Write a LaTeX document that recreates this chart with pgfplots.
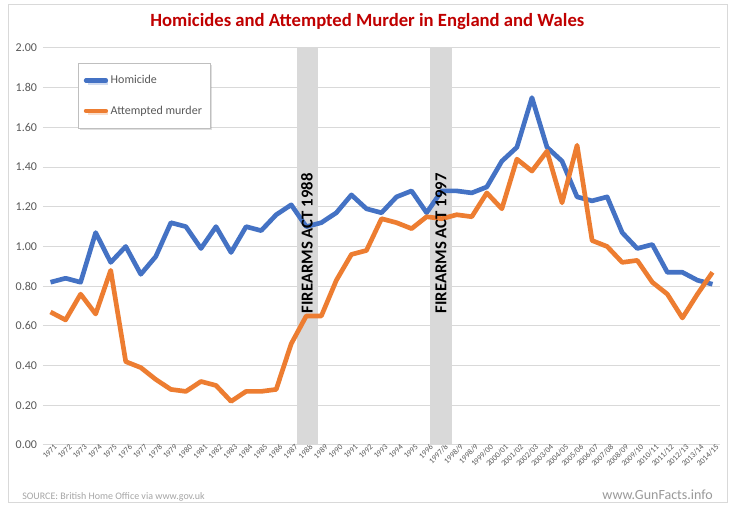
\documentclass[border=0pt]{standalone}
\usepackage{fontspec}
\setmainfont{Carlito}
\usepackage{pgfplots}
\pgfplotsset{compat=1.18}
\usepackage{pgfplotstable}
\usetikzlibrary{shadows}

\definecolor{hblue}{HTML}{4472C4}
\definecolor{horange}{HTML}{ED7D31}
\definecolor{gridc}{HTML}{D9D9D9}
\definecolor{bandc}{HTML}{D9D9D9}
\definecolor{titlered}{HTML}{C00000}
\definecolor{ticktext}{HTML}{595959}

\pgfplotstableread{
idx hom att
0 0.82 0.67
1 0.84 0.63
2 0.82 0.76
3 1.07 0.66
4 0.92 0.88
5 1.00 0.42
6 0.86 0.39
7 0.95 0.33
8 1.12 0.28
9 1.10 0.27
10 0.99 0.32
11 1.10 0.30
12 0.97 0.22
13 1.10 0.27
14 1.08 0.27
15 1.16 0.28
16 1.21 0.51
17 1.10 0.65
18 1.12 0.65
19 1.17 0.83
20 1.26 0.96
21 1.19 0.98
22 1.17 1.14
23 1.25 1.12
24 1.28 1.09
25 1.17 1.15
26 1.28 1.14
27 1.28 1.16
28 1.27 1.15
29 1.30 1.27
30 1.43 1.19
31 1.50 1.44
32 1.75 1.38
33 1.50 1.48
34 1.43 1.22
35 1.25 1.51
36 1.23 1.03
37 1.25 1.00
38 1.07 0.92
39 0.99 0.93
40 1.01 0.82
41 0.87 0.76
42 0.87 0.64
43 0.83 0.76
44 0.81 0.87
}\datatable

\begin{document}
\begin{tikzpicture}
\fill[white] (0pt,0pt) rectangle (548.25pt,379.5pt);
\draw[gridc,line width=0.75pt] (6pt,2.25pt) rectangle (545.25pt,375.75pt);
\begin{axis}[
  at={(32.25pt,45.75pt)}, anchor=south west,
  scale only axis, width=507.75pt, height=297.75pt,
  xmin=-0.5, xmax=44.5, ymin=0, ymax=2,
  ytick={0,0.2,0.4,0.6,0.8,1,1.2,1.4,1.6,1.8,2},
  /pgf/number format/assume math mode=true,
  /pgf/number format/fixed,
  /pgf/number format/fixed zerofill,
  /pgf/number format/precision=2,
  yticklabel style={font=\fontsize{9}{10}\selectfont, text=ticktext, xshift=-1pt},
  ymajorgrids, grid style={gridc, line width=0.75pt},
  axis line style={draw=none},
  major tick length=0pt, tick style={draw=none},
  xtick={0,...,44},
  xticklabels={1971,1972,1973,1974,1975,1976,1977,1978,1979,1980,1981,1982,1983,1984,1985,1986,1987,1988,1989,1990,1991,1992,1993,1994,1995,1996,1997/8,1998/9,1998/9,1999/00,2000/01,2001/02,2002/03,2003/04,2004/05,2005/06,2006/07,2007/08,2008/09,2009/10,2010/11,2011/12,2012/13,2013/14,2014/15},
  xticklabel style={rotate=45, anchor=east, font=\fontsize{6}{7}\selectfont, text=ticktext, inner sep=0.5pt, xshift=3pt, yshift=-3pt},
  legend style={at={(0.052,0.962)}, anchor=north west, draw=gray!50, fill=white,
    font=\fontsize{9}{11}\selectfont, text=ticktext, row sep=11pt,
    inner xsep=4pt, inner ysep=7pt,
    drop shadow={opacity=0.25, shadow xshift=1.5pt, shadow yshift=-1.5pt}},
  legend cell align=left,
  legend image code/.code={\draw[#1, line width=3.2pt, line cap=round] (0pt,0pt) -- (15pt,0pt);},
]
\fill[bandc] (axis cs:16.4,0) rectangle (axis cs:17.8,2);
\fill[bandc] (axis cs:25.25,0) rectangle (axis cs:26.7,2);
\addplot[hblue, line width=3.5pt, line join=round, no markers] table[x=idx, y=hom] {\datatable};
\addlegendentry{Homicide}
\addplot[horange, line width=3.5pt, line join=round, no markers] table[x=idx, y=att] {\datatable};
\addlegendentry{Attempted murder}
\node[rotate=90, anchor=west, font=\bfseries\fontsize{12.5}{14}\selectfont] at (axis cs:17.05,0.64) {FIREARMS ACT 1988};
\node[rotate=90, anchor=west, font=\bfseries\fontsize{12.5}{14}\selectfont] at (axis cs:25.95,0.64) {FIREARMS ACT 1997};
\end{axis}
\node[font=\bfseries\fontsize{14}{16}\selectfont, text=titlered] at (275.5pt,363pt) {Homicides and Attempted Murder in England and Wales};
\node[anchor=west, font=\fontsize{7.5}{9}\selectfont, text=gray!70, inner sep=0pt] at (16.5pt,6.75pt) {SOURCE: British Home Office via www.gov.uk};
\node[anchor=east, font=\fontsize{10.5}{12}\selectfont, text=gray!80, inner sep=0pt] at (534.75pt,8.25pt) {www.GunFacts.info};
\end{tikzpicture}
\end{document}
